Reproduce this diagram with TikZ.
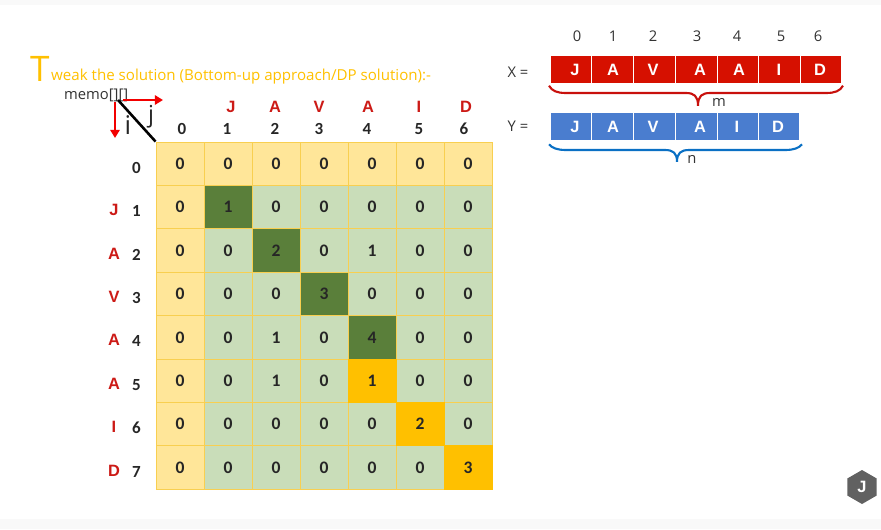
\documentclass[tikz,border=0pt]{standalone}
\usepackage{fontspec}
\setmainfont{Open Sans}
\newfontfamily\cellfont{Carlito}
\newfontfamily\headfont{Liberation Sans}
\usepackage{tikz}
\usetikzlibrary{shapes.geometric, arrows.meta, positioning, calc}
\definecolor{headcolor}{HTML}{FFE699}
\definecolor{bodycolor}{HTML}{C9DDB9}
\definecolor{matchcolor}{HTML}{5A7F3A}
\definecolor{tracecolor}{HTML}{FFC000}
\definecolor{gridcolor}{HTML}{F8CF50}
\definecolor{xcolor}{HTML}{D61000}
\definecolor{ycolor}{HTML}{4A7DCF}
\definecolor{xbrace}{HTML}{C8100C}
\definecolor{ybrace}{HTML}{0A70C4}
\definecolor{lettercolor}{HTML}{CC1A16}
\definecolor{titlecolor}{HTML}{FFC000}
\definecolor{stripcolor}{HTML}{F9F9F9}
% left end, tip, right end, top of the ends, bar, bottom of the tip
\newcommand{\bracepath}[7]{%
  \draw[#1] (#2,#5) .. controls (#2+3,#6-2) and (#2+8,#6) .. (#2+17,#6)
    -- (#3-12,#6) .. controls (#3-4,#6) and (#3,#6+3) .. (#3,#7)
    .. controls (#3,#6+3) and (#3+4,#6) .. (#3+12,#6)
    -- (#4-17,#6) .. controls (#4-8,#6) and (#4-3,#6-2) .. (#4,#5);}

\begin{document}
\begin{tikzpicture}[
    x=0.03cm, y=-0.03cm,
    cell/.style={rectangle, draw=gridcolor, line width=0.8pt, minimum width=1.44cm,
                minimum height=1.302cm, inner sep=0pt, font=\cellfont\bfseries\fontsize{15}{15}\selectfont, text=black!85},
    strbox/.style={rectangle, draw=white, line width=0.6pt, inner sep=0pt, minimum height=0.85cm},
    boxletter/.style={font=\headfont\bfseries\fontsize{14}{14}\selectfont, text=white, inner sep=0pt},
    idx/.style={font=\cellfont\bfseries\fontsize{14.5}{14.5}\selectfont, text=black!85},
    letter/.style={font=\headfont\bfseries\fontsize{14}{14}\selectfont, text=lettercolor},
    plain/.style={font=\fontsize{12.6}{12.6}\selectfont, text=black!80},
    redarrow/.style={draw=red!95!black, line width=2pt, -{Triangle[length=7pt,width=8pt]}},
    curly/.style={line width=1.8pt},
]
% Page
\useasboundingbox (0,0) rectangle (881,529);
\fill[stripcolor] (0,0) rectangle (881,5);
\fill[stripcolor] (0,518.5) rectangle (881,529);

% Title
\node[anchor=base west, inner sep=0pt, text=titlecolor, font=\fontsize{30}{30}\selectfont] (title1) at (30,81) {T};
\node[anchor=base west, inner sep=0pt, text=titlecolor, font=\fontsize{12.9}{12.9}\selectfont] (title2) at (51,80)
    {weak the solution (Bottom-up approach/DP solution):-};

% Table
\foreach \row [count=\r from 0] in {
    {0,0,0,0,0,0,0},
    {0,1,0,0,0,0,0},
    {0,0,2,0,1,0,0},
    {0,0,0,3,0,0,0},
    {0,0,1,0,4,0,0},
    {0,0,1,0,1,0,0},
    {0,0,0,0,0,2,0},
    {0,0,0,0,0,0,3}} {
  \foreach \val [count=\c from 0] in \row {
    \pgfmathsetmacro{\cx}{180+48*\c}
    \pgfmathsetmacro{\cy}{163.7+43.4*\r}
    \ifnum\r=0 \def\shade{headcolor}\else
      \ifnum\c=0 \def\shade{headcolor}\else \def\shade{bodycolor}\fi
    \fi
    \node[cell, fill=\shade] (m\r-\c) at (\cx,\cy) {\val};
  }
}
% Filled cells of the match
\foreach \r/\c/\val in {1/1/1, 2/2/2, 3/3/3, 4/4/4} {
  \node[cell, fill=matchcolor] (d\r) at (m\r-\c) {\val};
}
\foreach \r/\c/\val in {5/4/1, 6/5/2, 7/6/3} {
  \node[cell, fill=tracecolor, draw=tracecolor] (t\r) at (m\r-\c) {\val};
}

% Column labels
\foreach \c/\lab/\lx in {1/J/231, 2/A/275, 3/V/319, 4/A/368, 5/I/419, 6/D/466} {
  \node[letter] (cl\c) at (\lx,107) {\lab};
}
\foreach \c/\lx in {0/182, 1/227, 2/275, 3/319, 4/367, 5/419, 6/464} {
  \node[idx] (ci\c) at (\lx,129) {\c};
}
% Row labels
\foreach \r/\lab in {1/J, 2/A, 3/V, 4/A, 5/A, 6/I, 7/D} {
  \node[letter] (rl\r) at ($(m\r-0)+(-66,3)$) {\lab};
}
\foreach \r in {0,...,7} {
  \node[idx] (ri\r) at ($(m\r-0)+(-43.5,4)$) {\r};
}

% memo corner
\node[plain, anchor=base west, inner sep=0pt] (memo) at (64,99) {memo[][]};
\coordinate (corner) at (118,100);
\coordinate (jend) at (163,100);
\coordinate (iend) at (115,138);
\coordinate (jstart) at (123,100);
\coordinate (istart) at (115,102);
\draw[line width=2.2pt, black] (corner) -- (m0-0.north west);
\draw[redarrow] (jstart) -- (jend);
\draw[redarrow] (istart) -- (iend);
\node[font=\fontsize{22}{22}\selectfont, text=black!85] (ilab) at (128,125) {i};
\node[font=\fontsize{20}{20}\selectfont, text=black!85] (jlab) at (151,117) {j};

% String X
\node[plain] (xlab) at (518,72) {X =};
\foreach \name/\lab/\xa/\xb/\lx/\num/\nx in {
    a/J/550/591/575/0/577, b/A/591/633/613/1/613, c/V/633/675/653/2/653, d/A/675/717/700/3/697,
    e/A/717/758/739/4/737, f/I/758/800/779/5/781, g/D/800/841/820/6/818} {
  \node[strbox, fill=xcolor, minimum width=(\xb-\xa)*0.03cm] (x\name) at ({(\xa+\xb)/2},69.2) {};
  \node[boxletter] (xl\name) at (\lx,69.5) {\lab};
  \node[plain] (xn\name) at (\nx,36) {\num};
}
\bracepath{curly, xbrace}{549}{698}{843}{85.7}{93}{105.7}
\node[plain] (mlab) at (719,102) {m};

% String Y
\node[plain] (ylab) at (518,126) {Y =};
\foreach \name/\lab/\xa/\xb/\lx in {
    a/J/550/591/575, b/A/591/633/613, c/V/633/675/653, d/A/675/717/700, e/I/717/758/737, f/D/758/799/778} {
  \node[strbox, fill=ycolor, minimum width=(\xb-\xa)*0.03cm] (y\name) at ({(\xa+\xb)/2},126.3) {};
  \node[boxletter] (yl\name) at (\lx,126.5) {\lab};
}
\bracepath{curly, ybrace}{549}{677}{802}{144.3}{150}{161.7}
\node[plain] (nlab) at (692,159) {n};

% Logo
\node[regular polygon, regular polygon sides=6, shape border rotate=30, fill=black!62, inner sep=0pt, minimum size=1.02cm,
      text=white, font=\headfont\bfseries\fontsize{14}{14}\selectfont] (logo) at (862,487) {J};
\end{tikzpicture}
\end{document}
